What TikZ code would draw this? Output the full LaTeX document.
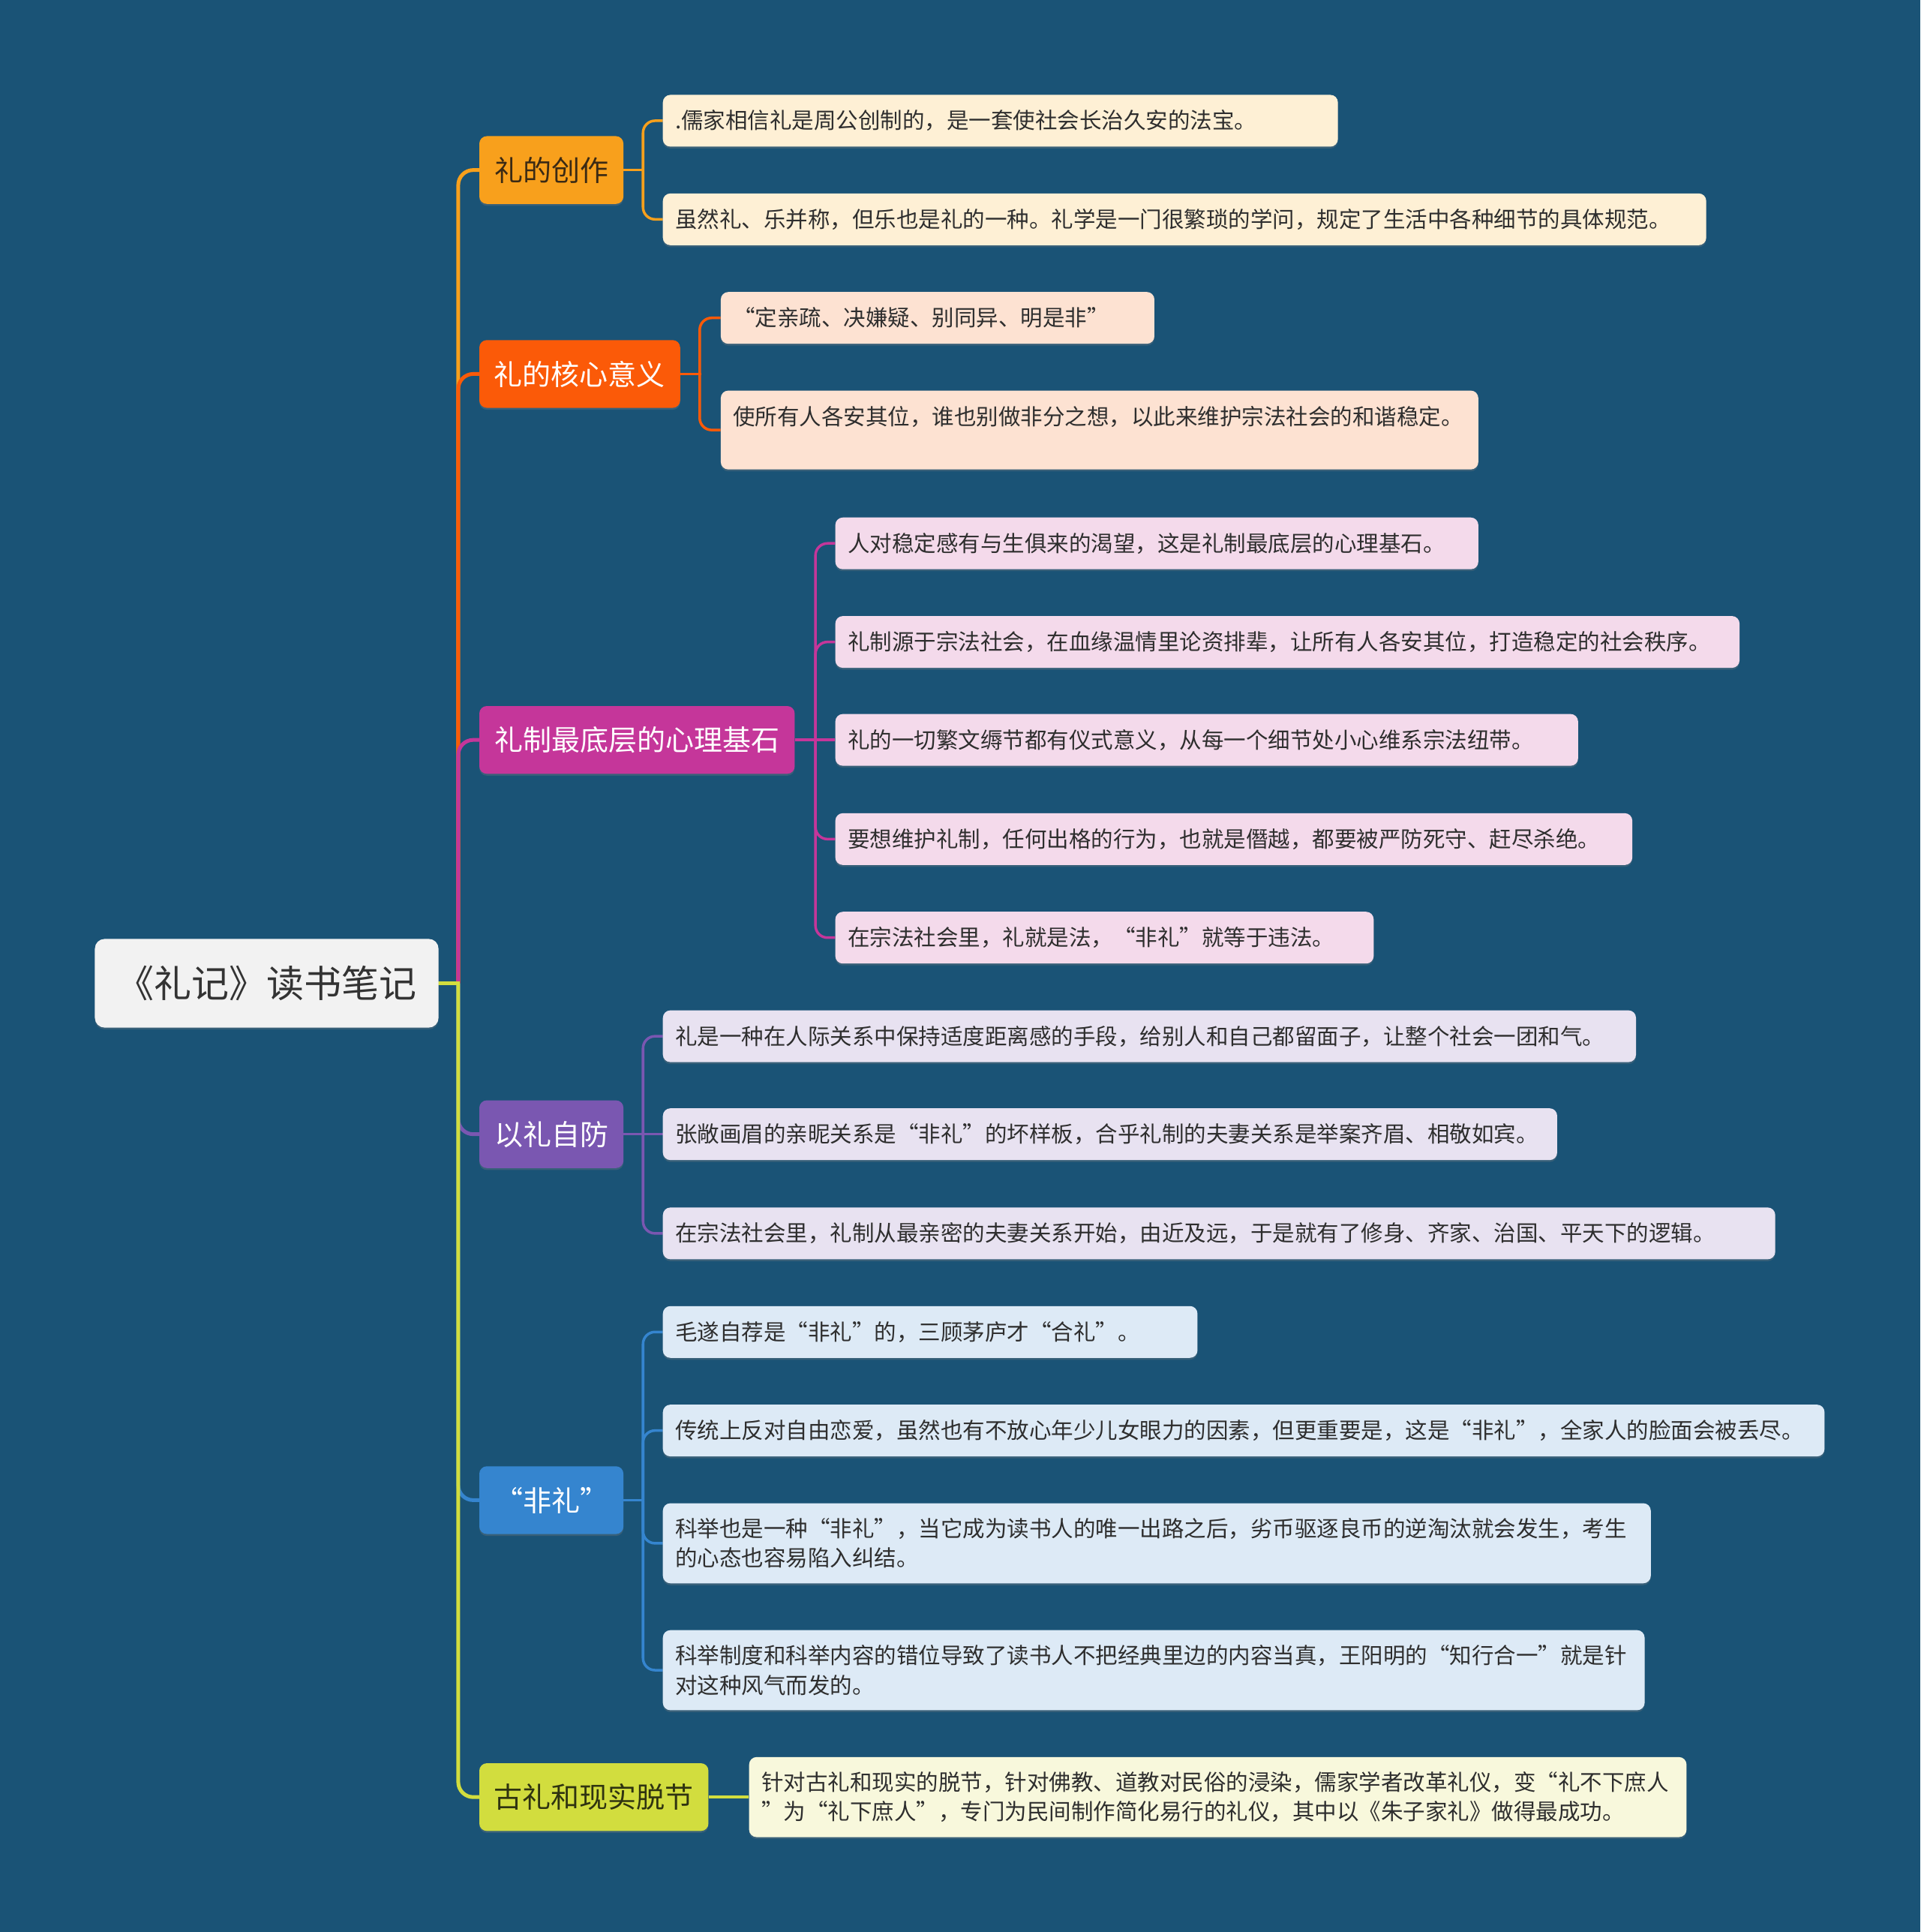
\documentclass[tikz,border=0pt]{standalone}
\usepackage{fontspec}
\setmainfont{Noto Sans CJK SC}
\usetikzlibrary{shadows}
\definecolor{bg}{HTML}{1A5376}
\definecolor{rootc}{HTML}{F2F2F2}
\definecolor{roott}{HTML}{333333}
\definecolor{bA}{HTML}{F8A01C}
\definecolor{bB}{HTML}{FB5A08}
\definecolor{bC}{HTML}{C5369A}
\definecolor{bD}{HTML}{7A57B1}
\definecolor{bE}{HTML}{3585CF}
\definecolor{bF}{HTML}{D2DD3E}
\definecolor{tA}{HTML}{3B2A14}
\definecolor{tF}{HTML}{2F3310}
\definecolor{lA}{HTML}{FEF0D5}
\definecolor{lB}{HTML}{FDE2D2}
\definecolor{lC}{HTML}{F4DAEB}
\definecolor{lD}{HTML}{E8E2F1}
\definecolor{lE}{HTML}{DDEAF6}
\definecolor{lF}{HTML}{F8F8DC}
\definecolor{leaft}{HTML}{2E2E2E}
\newcommand\rootfont{\fontsize{50}{60}\selectfont}
\newcommand\branchfont{\fontsize{38}{46}\selectfont}
\newcommand\leaffont{\fontsize{29.5}{39.4}\selectfont}
\pgfdeclarelayer{backdrop}
\pgfdeclarelayer{wires}
\pgfsetlayers{backdrop,wires,main}
\tikzset{
  shad/.style={drop shadow={shadow xshift=0pt,shadow yshift=-2.5pt,opacity=0.3}},
  rootbox/.style={rounded corners=13pt, fill=rootc, text=roott, font=\rootfont,
    minimum width=458.1pt, minimum height=118.2pt, inner sep=0pt, shad},
  branchbox/.style={rounded corners=10pt, minimum height=90.3pt, inner sep=0pt,
    font=\branchfont, anchor=west, text=white, shad},
  leafbox/.style={rounded corners=10pt, anchor=west, align=left, inner xsep=16.42pt,
    inner ysep=0pt, font=\leaffont, text=leaft, minimum height=69pt, shad},
  trunkline/.style={line width=5pt, rounded corners=20pt},
  twigline/.style={line width=3.5pt, rounded corners=16pt},
}
\begin{document}
\begin{tikzpicture}[x=1.6421pt,y=-1.6421pt]
\begin{pgfonlayer}{backdrop}
\fill[bg] (0,0) rectangle (1559,1568);
\end{pgfonlayer}
\useasboundingbox (0,0) rectangle (1559,1568);

% coordinates
\coordinate (tr) at (372,798);
\coordinate (jA) at (522,138);
\coordinate (jB) at (568,303.5);
\coordinate (jC) at (662,600.5);
\coordinate (jD) at (522,920.5);
\coordinate (jE) at (522,1217.5);

% nodes
\node[rootbox] (root) at (216.5,798) {《礼记》读书笔记};

\node[branchbox, fill=bA, text=tA, minimum width=192.1pt] (bA) at (389,138) {礼的创作};
\node[branchbox, fill=bB, minimum width=267.7pt] (bB) at (389,303.5) {礼的核心意义};
\node[branchbox, fill=bC, minimum width=420.4pt] (bC) at (389,600.5) {礼制最底层的心理基石};
\node[branchbox, fill=bD, minimum width=192.1pt] (bD) at (389,920.5) {以礼自防};
\node[branchbox, fill=bE, minimum width=192.1pt] (bE) at (389,1217.5) {“非礼”};
\node[branchbox, fill=bF, text=tF, minimum width=305.4pt] (bF) at (389,1458.5) {古礼和现实脱节};

\node[leafbox, fill=lA, text width=867.0pt] (cA1) at (538,98) {.儒家相信礼是周公创制的，是一套使社会长治久安的法宝。};
\node[leafbox, fill=lA, text width=1358.0pt] (cA2) at (538,178) {虽然礼、乐并称，但乐也是礼的一种。礼学是一门很繁琐的学问，规定了生活中各种细节的具体规范。};

\node[leafbox, fill=lB, text width=545.2pt] (cB1) at (585,258) {“定亲疏、决嫌疑、别同异、明是非”};
\node[leafbox, fill=lB, text width=977.0pt, minimum height=105.1pt] (cB2) at (585,349) {使所有人各安其位，谁也别做非分之想，以此来维护宗法社会的和谐稳定。\\\mbox{}};

\node[leafbox, fill=lC, text width=824.3pt] (cC1) at (678,441) {人对稳定感有与生俱来的渴望，这是礼制最底层的心理基石。};
\node[leafbox, fill=lC, text width=1172.5pt] (cC2) at (678,521) {礼制源于宗法社会，在血缘温情里论资排辈，让所有人各安其位，打造稳定的社会秩序。};
\node[leafbox, fill=lC, text width=957.3pt] (cC3) at (678,600.5) {礼的一切繁文缛节都有仪式意义，从每一个细节处小心维系宗法纽带。};
\node[leafbox, fill=lC, text width=1029.6pt] (cC4) at (678,681) {要想维护礼制，任何出格的行为，也就是僭越，都要被严防死守、赶尽杀绝。};
\node[leafbox, fill=lC, text width=684.8pt] (cC5) at (678,761) {在宗法社会里，礼就是法，“非礼”就等于违法。};

\node[leafbox, fill=lD, text width=1264.4pt] (cD1) at (538,841) {礼是一种在人际关系中保持适度距离感的手段，给别人和自己都留面子，让整个社会一团和气。};
\node[leafbox, fill=lD, text width=1159.3pt] (cD2) at (538,920.5) {张敞画眉的亲昵关系是“非礼”的坏样板，合乎礼制的夫妻关系是举案齐眉、相敬如宾。};
\node[leafbox, fill=lD, text width=1450.0pt] (cD3) at (538,1001) {在宗法社会里，礼制从最亲密的夫妻关系开始，由近及远，于是就有了修身、齐家、治国、平天下的逻辑。};

\node[leafbox, fill=lE, text width=679.8pt] (cE1) at (538,1081) {毛遂自荐是“非礼”的，三顾茅庐才“合礼”。};
\node[leafbox, fill=lE, text width=1515.7pt] (cE2) at (538,1161) {传统上反对自由恋爱，虽然也有不放心年少儿女眼力的因素，但更重要是，这是“非礼”，全家人的脸面会被丢尽。};
\node[leafbox, fill=lE, text width=1284.1pt, minimum height=106.7pt] (cE3) at (538,1252.5) {科举也是一种“非礼”，当它成为读书人的唯一出路之后，劣币驱逐良币的逆淘汰就会发生，考生\\的心态也容易陷入纠结。};
\node[leafbox, fill=lE, text width=1275.9pt, minimum height=106.7pt] (cE4) at (538,1355.5) {科举制度和科举内容的错位导致了读书人不把经典里边的内容当真，王阳明的“知行合一”就是针\\对这种风气而发的。};

\node[leafbox, fill=lF, text width=1216.8pt, minimum height=106.7pt] (cF1) at (608,1458.5) {针对古礼和现实的脱节，针对佛教、道教对民俗的浸染，儒家学者改革礼仪，变“礼不下庶人\\”为“礼下庶人”，专门为民间制作简化易行的礼仪，其中以《朱子家礼》做得最成功。};

% connectors (behind nodes)
\begin{pgfonlayer}{wires}
\draw[trunkline, bA] (tr) |- (bA.west);
\draw[trunkline, bB] (tr) |- (bB.west);
\draw[trunkline, bC] (tr) |- (bC.west);
\draw[trunkline, bD] (tr) |- (bD.west);
\draw[trunkline, bE] (tr) |- (bE.west);
\draw[trunkline, bF] (tr) |- (bF.west);
\draw[line width=5pt, line cap=rect, bF] (root.east) -- (tr);

\draw[twigline, bA, line cap=rect] (bA.east) -- (jA);
\draw[twigline, bA] (jA) |- (cA1.west);
\draw[twigline, bA] (jA) |- (cA2.west);

\draw[twigline, bB, line cap=rect] (bB.east) -- (jB);
\draw[twigline, bB] (jB) |- (cB1.west);
\draw[twigline, bB] (jB) |- (cB2.west);

\draw[twigline, bC] (bC.east) -- (cC3.west);
\draw[twigline, bC] (jC) |- (cC1.west);
\draw[twigline, bC] (jC) |- (cC2.west);
\draw[twigline, bC] (jC) |- (cC4.west);
\draw[twigline, bC] (jC) |- (cC5.west);

\draw[twigline, bD] (bD.east) -- (cD2.west);
\draw[twigline, bD] (jD) |- (cD1.west);
\draw[twigline, bD] (jD) |- (cD3.west);

\draw[twigline, bE, line cap=rect] (bE.east) -- (jE);
\draw[twigline, bE] (jE) |- (cE1.west);
\draw[twigline, bE] (jE) |- (cE2.west);
\draw[twigline, bE] (jE) |- (cE3.west);
\draw[twigline, bE] (jE) |- (cE4.west);

\draw[twigline, bF] (bF.east) -- (cF1.west);
\end{pgfonlayer}
\end{tikzpicture}
\end{document}
